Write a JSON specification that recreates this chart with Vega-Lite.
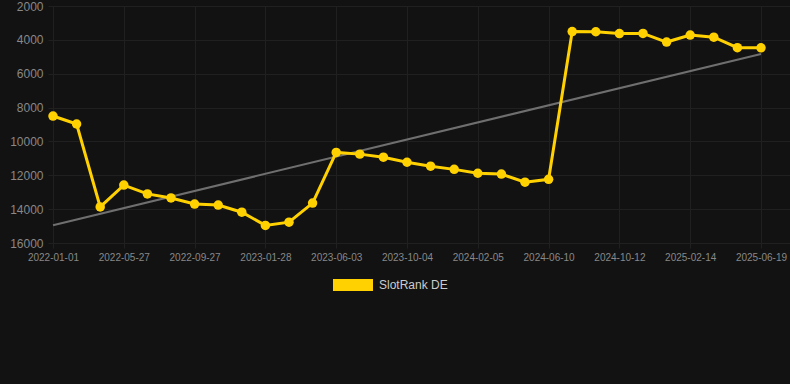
{
  "$schema": "https://vega.github.io/schema/vega-lite/v6.json",
  "autosize": {"type": "none"},
  "width": 742,
  "height": 237,
  "padding": {"left": 48, "top": 6, "right": 0, "bottom": 141},
  "background": "#121212",
  "config": {
    "view": {"stroke": null},
    "font": "Liberation Sans",
    "axis": {
      "gridColor": "#202020",
      "gridWidth": 1,
      "domain": false,
      "tickColor": "#202020",
      "labelColor": "#888888",
      "labelFont": "Liberation Sans"
    }
  },
  "datasets": {
    "rank": [
      {"idx": 0, "date": "2022-01-01", "rank": 8500, "series": "SlotRank DE"},
      {"idx": 1, "date": "2022-02-18", "rank": 8970, "series": "SlotRank DE"},
      {"idx": 2, "date": "2022-04-08", "rank": 13870, "series": "SlotRank DE"},
      {"idx": 3, "date": "2022-05-27", "rank": 12580, "series": "SlotRank DE"},
      {"idx": 4, "date": "2022-07-07", "rank": 13100, "series": "SlotRank DE"},
      {"idx": 5, "date": "2022-08-17", "rank": 13340, "series": "SlotRank DE"},
      {"idx": 6, "date": "2022-09-27", "rank": 13700, "series": "SlotRank DE"},
      {"idx": 7, "date": "2022-11-07", "rank": 13760, "series": "SlotRank DE"},
      {"idx": 8, "date": "2022-12-18", "rank": 14180, "series": "SlotRank DE"},
      {"idx": 9, "date": "2023-01-28", "rank": 14960, "series": "SlotRank DE"},
      {"idx": 10, "date": "2023-03-10", "rank": 14770, "series": "SlotRank DE"},
      {"idx": 11, "date": "2023-04-22", "rank": 13640, "series": "SlotRank DE"},
      {"idx": 12, "date": "2023-06-03", "rank": 10650, "series": "SlotRank DE"},
      {"idx": 13, "date": "2023-07-14", "rank": 10750, "series": "SlotRank DE"},
      {"idx": 14, "date": "2023-08-24", "rank": 10930, "series": "SlotRank DE"},
      {"idx": 15, "date": "2023-10-04", "rank": 11230, "series": "SlotRank DE"},
      {"idx": 16, "date": "2023-11-14", "rank": 11460, "series": "SlotRank DE"},
      {"idx": 17, "date": "2023-12-26", "rank": 11650, "series": "SlotRank DE"},
      {"idx": 18, "date": "2024-02-05", "rank": 11880, "series": "SlotRank DE"},
      {"idx": 19, "date": "2024-03-17", "rank": 11930, "series": "SlotRank DE"},
      {"idx": 20, "date": "2024-04-29", "rank": 12410, "series": "SlotRank DE"},
      {"idx": 21, "date": "2024-06-10", "rank": 12240, "series": "SlotRank DE"},
      {"idx": 22, "date": "2024-07-21", "rank": 3510, "series": "SlotRank DE"},
      {"idx": 23, "date": "2024-09-01", "rank": 3520, "series": "SlotRank DE"},
      {"idx": 24, "date": "2024-10-12", "rank": 3630, "series": "SlotRank DE"},
      {"idx": 25, "date": "2024-11-22", "rank": 3620, "series": "SlotRank DE"},
      {"idx": 26, "date": "2025-01-03", "rank": 4130, "series": "SlotRank DE"},
      {"idx": 27, "date": "2025-02-14", "rank": 3720, "series": "SlotRank DE"},
      {"idx": 28, "date": "2025-03-27", "rank": 3840, "series": "SlotRank DE"},
      {"idx": 29, "date": "2025-05-08", "rank": 4460, "series": "SlotRank DE"},
      {"idx": 30, "date": "2025-06-19", "rank": 4470, "series": "SlotRank DE"}
    ],
    "trend": [
      {"idx": 0, "rank": 14950},
      {"idx": 30, "rank": 4830}
    ]
  },
  "encoding": {
    "x": {
      "field": "idx",
      "type": "quantitative",
      "scale": {"domain": [-0.212, 31.229], "nice": false, "zero": false},
      "axis": {
        "title": null,
        "values": [0, 3, 6, 9, 12, 15, 18, 21, 24, 27, 30],
        "labelExpr": "['2022-01-01','2022-05-27','2022-09-27','2023-01-28','2023-06-03','2023-10-04','2024-02-05','2024-06-10','2024-10-12','2025-02-14','2025-06-19'][round(datum.value/3)]",
        "labelFontSize": 10,
        "labelPadding": 4,
        "tickSize": 5,
        "labelOverlap": false,
        "labelFlush": false
      }
    },
    "y": {
      "field": "rank",
      "type": "quantitative",
      "scale": {"domain": [2000, 16000], "reverse": true, "nice": false, "zero": false},
      "axis": {
        "title": null,
        "values": [2000, 4000, 6000, 8000, 10000, 12000, 14000, 16000],
        "format": "d",
        "labelFontSize": 12,
        "labelPadding": 5,
        "tickSize": 0
      }
    }
  },
  "layer": [
    {
      "data": {"name": "trend"},
      "mark": {"type": "line", "color": "#6f6f6f", "strokeWidth": 2}
    },
    {
      "data": {"name": "rank"},
      "mark": {"type": "line", "strokeWidth": 3},
      "encoding": {
        "color": {
          "field": "series",
          "type": "nominal",
          "scale": {"range": ["#FFD100"]},
          "legend": {
            "title": null,
            "orient": "none",
            "legendX": 285,
            "legendY": 259,
            "symbolType": "M-1,-0.3H1V0.3H-1Z",
            "symbolSize": 1600,
            "symbolFillColor": "#FFD100",
            "symbolStrokeWidth": 0,
            "labelColor": "#cccccc",
            "labelFontSize": 12,
            "labelFont": "Liberation Sans",
            "labelOffset": 6
          }
        }
      }
    },
    {
      "data": {"name": "rank"},
      "mark": {"type": "point", "filled": true, "size": 90, "opacity": 1, "color": "#FFD100"}
    }
  ]
}
